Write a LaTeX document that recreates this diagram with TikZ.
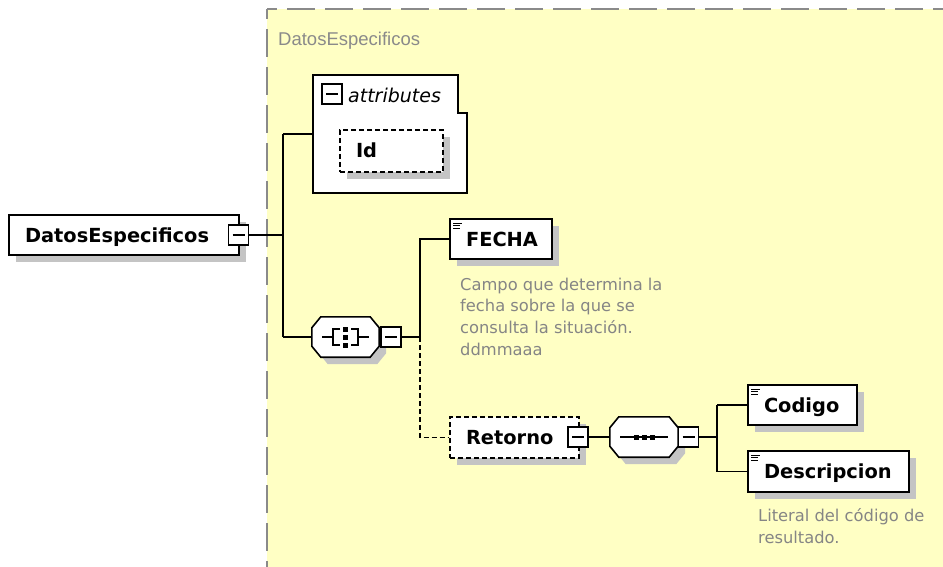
\documentclass[tikz,border=0pt]{standalone}
\usepackage{fontspec}
\setmainfont{DejaVu Sans}
\newfontfamily\hdrfont{Liberation Sans}
\usetikzlibrary{calc,shadows}
\definecolor{bgyellow}{HTML}{FFFFC4}
\definecolor{shadowgray}{HTML}{C4C4C4}
\definecolor{bordergray}{HTML}{8A8A8A}
\definecolor{annogray}{HTML}{858585}
\newcommand\octpath[1]{($(#1.north west)+(9,0)$) -- ($(#1.north east)+(-9,0)$) -- ($(#1.north east)+(0,11)$) -- ($(#1.south east)+(0,-11)$) -- ($(#1.south east)+(-9,0)$) -- ($(#1.south west)+(9,0)$) -- ($(#1.south west)+(0,-11)$) -- ($(#1.north west)+(0,11)$) -- cycle}
\tikzset{
  conn/.style={line width=1.5pt, black},
  dconn/.style={conn, dash pattern=on 5pt off 3pt},
  shad/.style={drop shadow={shadow xshift=7pt, shadow yshift=-7pt, fill=shadowgray, opacity=1}},
  boxbase/.style={line width=1.8pt, fill=white, shad, inner xsep=16pt, inner ysep=0pt,
    minimum height=40pt, text height=15pt, text depth=1pt, align=left,
    font=\fontsize{19.4}{23}\selectfont\bfseries},
  elembox/.style={boxbase, draw},
  dashbox/.style={boxbase, draw, dash pattern=on 5pt off 3pt},
  simplebox/.style={elembox, path picture={
      \draw[line width=1pt] ([xshift=3pt,yshift=-4pt]path picture bounding box.north west) -- ++(9pt,0pt);
      \draw[line width=1pt] ([xshift=3pt,yshift=-6.5pt]path picture bounding box.north west) -- ++(7pt,0pt);
      \draw[line width=1pt] ([xshift=3pt,yshift=-9pt]path picture bounding box.north west) -- ++(7pt,0pt);}},
  minusbox/.style={draw, fill=white, line width=1.3pt, minimum size=20pt, inner sep=0pt,
    path picture={\draw[line width=1.3pt] ([xshift=4pt]path picture bounding box.west) -- ([xshift=-4pt]path picture bounding box.east);}},
  octnode/.style={minimum height=40pt, inner sep=0pt},
  octline/.style={line width=1.6pt, fill=white, shad},
  anno/.style={font=\fontsize{16.3}{21.7}\selectfont, text=annogray, align=left, inner sep=0pt, anchor=north west},
}
\begin{document}
\begin{tikzpicture}[x=1pt,y=-1pt]
\useasboundingbox (0,0) rectangle (943,567);
% background group
\fill[bgyellow] (267,9) rectangle (943,567);
\draw[bordergray, line width=2pt, dash pattern=on 28pt off 10pt, dash phase=18pt] (267,9) -- (943,9);
\draw[bordergray, line width=2pt, dash pattern=on 28pt off 10pt, dash phase=18pt] (267,9) -- (267,567);
\node[anchor=base west, font=\hdrfont\fontsize{18.5}{22}\selectfont, text=bordergray, inner sep=0pt] (hdr) at (278,45.5) {DatosEspecificos};

% root element
\node[elembox, text width=198pt] (root) at (124,235) {DatosEspecificos};
\node[minusbox] (rootm) at (238.5,235) {};
\coordinate (b1) at (283,235);

% attributes
\node[minimum width=154pt, minimum height=118pt, inner sep=0pt] (attr) at (390,134) {};
\draw[line width=1.8pt, fill=white] (attr.north west) -- ($(attr.north east)+(-9,0)$) -- ($(attr.north east)+(-9,38)$) -- ($(attr.north east)+(0,38)$) -- (attr.south east) -- (attr.south west) -- cycle;
\node[minusbox] (attrm) at (332,94) {};
\node[anchor=west, inner sep=0pt, font=\fontsize{19}{23}\selectfont\itshape] (attrt) at (348,95) {attributes};
\node[dashbox, text width=71pt, minimum height=42pt] (id) at (391.5,151) {Id};

% all compositor
\node[octnode, minimum width=67pt] (oct1) at (345.5,337) {};
\draw[octline] \octpath{oct1};
\begin{scope}[shift={(oct1.center)}, line width=1.3pt]
  \draw (-23.5,0) -- (-12.5,0);
  \draw (-5.5,-8) -- (-12.5,-8) -- (-12.5,8) -- (-5.5,8);
  \fill (-2.5,-10.5) rectangle (2.5,-5.5);
  \fill (-2.5,-2.5) rectangle (2.5,2.5);
  \fill (-2.5,5.5) rectangle (2.5,10.5);
  \draw (5.5,-8) -- (12.5,-8) -- (12.5,8) -- (5.5,8);
  \draw (12.5,0) -- (23.5,0);
\end{scope}
\node[minusbox] (oct1m) at (391,337) {};
\coordinate (b2) at (420,337);

% FECHA
\node[simplebox, text width=70pt] (fecha) at (501,239) {FECHA};
\node[anno] (fechaanno) at (460,277.5) {Campo que determina la\\fecha sobre la que se\\consulta la situación.\\ddmmaaa};

% Retorno
\node[dashbox, text width=97pt, minimum height=41pt] (ret) at (514.5,437.5) {Retorno};
\node[minusbox] (retm) at (578,437) {};

% sequence compositor
\node[octnode, minimum width=68pt] (oct2) at (644,437) {};
\draw[octline] \octpath{oct2};
\begin{scope}[shift={(oct2.center)}, line width=1.3pt]
  \draw (-24,0) -- (24,0);
  \fill (-10.5,-2.5) rectangle (-5.5,2.5);
  \fill (-2.5,-2.5) rectangle (2.5,2.5);
  \fill (5.5,-2.5) rectangle (10.5,2.5);
\end{scope}
\node[minusbox] (oct2m) at (688.5,437) {};
\coordinate (b3) at (717,437);

% Codigo / Descripcion
\node[simplebox, text width=77pt] (cod) at (802.5,405) {Codigo};
\node[simplebox, text width=129pt, minimum height=41pt] (desc) at (828.5,471.5) {Descripcion};
\node[anno] (descanno) at (758,508.6) {Literal del código de\\resultado.};

% connectors
\draw[conn] (rootm.east) -- (b1);
\draw[conn] (b1 |- attr.west) -- (b1 |- oct1.west);
\draw[conn] (b1 |- attr.west) -- (attr.west);
\draw[conn] (b1 |- oct1.west) -- (oct1.west);
\draw[conn] (oct1m.east) -- (b2);
\draw[conn] (b2) -- (b2 |- fecha.west) -- (fecha.west);
\draw[dconn] (b2) |- (ret.west);
\draw[conn] (retm.east) -- (oct2.west);
\draw[conn] (oct2m.east) -- (b3);
\draw[conn] (b3 |- cod.west) -- (b3 |- desc.west);
\draw[conn] (b3 |- cod.west) -- (cod.west);
\draw[conn] (b3 |- desc.west) -- (desc.west);
\end{tikzpicture}
\end{document}
